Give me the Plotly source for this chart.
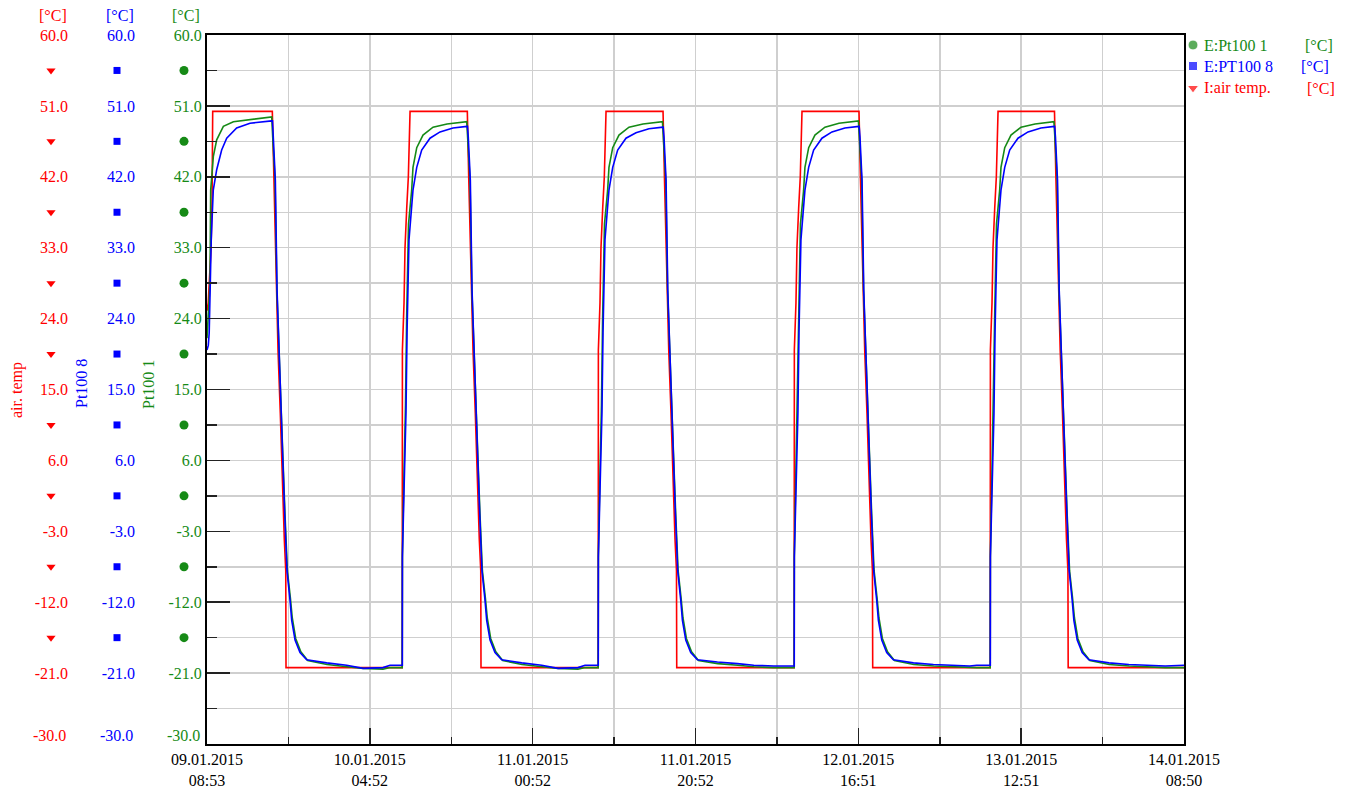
import pandas as pd
import plotly.graph_objects as go

# ---------------- data ----------------
START = "2015-01-09 08:53:00"
END = "2015-01-14 08:50:00"

x_ticktext = ["09.01.2015<br>08:53", "10.01.2015<br>04:52", "11.01.2015<br>00:52",
              "11.01.2015<br>20:52", "12.01.2015<br>16:51", "13.01.2015<br>12:51",
              "14.01.2015<br>08:50"]

y_tick_values = [-30, -21, -12, -3, 6, 15, 24, 33, 42, 51, 60]
y_minor_values = [-25.5, -16.5, -7.5, 1.5, 10.5, 19.5, 28.5, 37.5, 46.5, 55.5]
symbol_levels = [55.5, 46.5, 37.5, 28.5, 19.5, 10.5, 1.5, -7.5, -16.5]

# I:air temp. (hours since start, degC)
air_h = [0.00, 0.15, 0.30, 0.50, 0.62, 0.70, 8.02, 8.19, 8.47, 8.72, 9.00, 9.21, 9.49, 9.67, 9.70, 23.97,
         23.99, 24.19, 24.31, 24.52, 24.72, 24.93, 31.96, 32.13, 32.41, 32.66, 32.94, 33.15, 33.43, 33.61, 33.64, 48.03,
         48.05, 48.25, 48.37, 48.58, 48.78, 48.99, 55.99, 56.16, 56.44, 56.69, 56.97, 57.18, 57.46, 57.64, 57.67, 72.09,
         72.11, 72.31, 72.43, 72.64, 72.84, 73.05, 80.05, 80.22, 80.50, 80.75, 81.03, 81.24, 81.52, 81.70, 81.73, 96.16,
         96.18, 96.38, 96.50, 96.71, 96.91, 97.12, 104.05, 104.22, 104.50, 104.75, 105.03, 105.24, 105.52, 105.70, 105.73, 119.95]
air_t = [25.0, 26.0, 29.0, 33.0, 39.0, 50.3, 50.3, 42.0, 30.0, 20.0, 12.0, 4.0, -4.0, -8.0, -20.3, -20.3,
         20.0, 26.0, 33.0, 38.0, 42.0, 50.3, 50.3, 42.0, 30.0, 20.0, 12.0, 4.0, -4.0, -8.0, -20.3, -20.3,
         20.0, 26.0, 33.0, 38.0, 42.0, 50.3, 50.3, 42.0, 30.0, 20.0, 12.0, 4.0, -4.0, -8.0, -20.3, -20.3,
         20.0, 26.0, 33.0, 38.0, 42.0, 50.3, 50.3, 42.0, 30.0, 20.0, 12.0, 4.0, -4.0, -8.0, -20.3, -20.3,
         20.0, 26.0, 33.0, 38.0, 42.0, 50.3, 50.3, 42.0, 30.0, 20.0, 12.0, 4.0, -4.0, -8.0, -20.3, -20.3]

# E:PT100 8
pt8_h = [0.00, 0.16, 0.27, 0.52, 0.77, 1.19, 1.80, 2.42, 3.64, 5.28, 7.94,
         8.04, 8.14, 8.39, 8.60, 9.00, 9.30, 9.54, 9.82, 10.19, 10.40, 10.81, 11.42, 12.24, 14.70, 17.15, 19.16, 21.61, 22.47,
         23.98, 23.99, 24.19, 24.43, 24.56, 24.80, 25.29, 25.75, 26.36, 27.38, 28.61, 30.20, 31.92,
         31.98, 32.08, 32.33, 32.54, 32.94, 33.24, 33.48, 33.76, 34.13, 34.34, 34.75, 35.36, 36.18, 38.64, 41.09, 43.10, 45.55, 46.41,
         48.04, 48.05, 48.25, 48.49, 48.62, 48.86, 49.35, 49.81, 50.42, 51.44, 52.67, 54.26, 55.98,
         56.01, 56.11, 56.36, 56.57, 56.97, 57.27, 57.51, 57.79, 58.16, 58.37, 58.78, 59.39, 60.21, 62.67, 65.12, 67.13, 69.58, 70.44,
         72.10, 72.11, 72.31, 72.55, 72.68, 72.92, 73.41, 73.87, 74.48, 75.50, 76.73, 78.32, 80.04,
         80.07, 80.17, 80.42, 80.63, 81.03, 81.33, 81.57, 81.85, 82.22, 82.43, 82.84, 83.45, 84.27, 86.73, 89.18, 91.19, 93.64, 94.50,
         96.17, 96.18, 96.38, 96.62, 96.75, 96.99, 97.48, 97.94, 98.55, 99.57, 100.80, 102.39, 104.04,
         104.07, 104.17, 104.42, 104.63, 105.03, 105.33, 105.57, 105.85, 106.22, 106.43, 106.84, 107.45, 108.27, 110.73, 113.18, 115.19, 117.64, 119.95]
pt8_t = [20.0, 20.6, 22.2, 34.0, 40.3, 42.9, 45.4, 46.9, 48.2, 48.8, 49.1,
         49.1, 47.0, 41.6, 27.6, 14.0, 6.4, -0.7, -8.0, -11.7, -14.3, -16.8, -18.4, -19.3, -19.7, -20.0, -20.4, -20.3, -20.0,
         -20.0, -6.3, 2.2, 12.0, 22.2, 34.0, 40.3, 43.2, 45.4, 46.9, 47.7, 48.2, 48.4,
         48.4, 47.0, 41.6, 27.6, 14.0, 6.4, -0.7, -8.0, -11.7, -14.3, -16.8, -18.4, -19.3, -19.7, -20.0, -20.4, -20.3, -20.0,
         -20.0, -6.3, 2.2, 12.0, 22.2, 34.0, 40.3, 43.2, 45.4, 46.9, 47.6, 48.1, 48.3,
         48.3, 47.0, 41.6, 27.6, 14.0, 6.4, -0.7, -8.0, -11.7, -14.3, -16.8, -18.4, -19.3, -19.6, -19.8, -20.0, -20.1, -20.1,
         -20.1, -6.3, 2.2, 12.0, 22.2, 34.0, 40.3, 43.2, 45.4, 46.9, 47.7, 48.2, 48.4,
         48.4, 47.0, 41.6, 27.6, 14.0, 6.4, -0.7, -8.0, -11.7, -14.3, -16.8, -18.4, -19.3, -19.7, -19.9, -20.0, -20.1, -20.0,
         -20.0, -6.3, 2.2, 12.0, 22.2, 34.0, 40.3, 43.2, 45.4, 46.9, 47.7, 48.2, 48.4,
         48.4, 47.0, 41.6, 27.6, 14.0, 6.4, -0.7, -8.0, -11.7, -14.3, -16.8, -18.4, -19.3, -19.7, -19.9, -20.0, -20.1, -20.0]

# E:Pt100 1
pt1_h = [0.00, 0.16, 0.37, 0.45, 0.78, 1.19, 2.01, 3.24, 6.10, 7.95,
         8.07, 8.35, 8.58, 9.00, 9.32, 9.57, 9.87, 10.24, 10.47, 10.89, 11.52, 12.37, 14.74, 17.19, 19.16, 21.61, 22.47, 23.97,
         23.99, 24.16, 24.37, 24.51, 24.74, 25.13, 25.29, 25.75, 26.52, 27.75, 29.47, 31.89,
         32.01, 32.29, 32.52, 32.94, 33.26, 33.51, 33.81, 34.18, 34.41, 34.83, 35.46, 36.31, 38.68, 41.13, 43.10, 45.55, 46.41, 48.03,
         48.05, 48.22, 48.43, 48.57, 48.80, 49.19, 49.35, 49.81, 50.58, 51.81, 53.53, 55.92,
         56.04, 56.32, 56.55, 56.97, 57.29, 57.54, 57.84, 58.21, 58.44, 58.86, 59.49, 60.34, 62.71, 65.16, 67.13, 69.58, 70.44, 72.09,
         72.11, 72.28, 72.49, 72.63, 72.86, 73.25, 73.41, 73.87, 74.64, 75.87, 77.59, 79.98,
         80.10, 80.38, 80.61, 81.03, 81.35, 81.60, 81.90, 82.27, 82.50, 82.92, 83.55, 84.40, 86.77, 89.22, 91.19, 93.64, 94.50, 96.16,
         96.18, 96.35, 96.56, 96.70, 96.93, 97.32, 97.48, 97.94, 98.71, 99.94, 101.66, 103.98,
         104.10, 104.38, 104.61, 105.03, 105.35, 105.60, 105.90, 106.27, 106.50, 106.92, 107.55, 108.40, 110.77, 113.22, 115.19, 117.64, 119.95]
pt1_t = [21.5, 24.0, 28.5, 40.3, 44.6, 46.7, 48.4, 49.0, 49.4, 49.6,
         47.0, 41.6, 27.6, 14.0, 6.4, -0.7, -8.0, -11.5, -14.0, -16.6, -18.3, -19.4, -19.9, -20.2, -20.4, -20.5, -20.3, -20.3,
         -6.0, 3.0, 13.0, 24.0, 36.0, 40.3, 43.2, 45.7, 47.3, 48.3, 48.7, 49.0,
         47.0, 41.6, 27.6, 14.0, 6.4, -0.7, -8.0, -11.5, -14.0, -16.6, -18.3, -19.4, -19.9, -20.2, -20.4, -20.5, -20.3, -20.3,
         -6.0, 3.0, 13.0, 24.0, 36.0, 40.3, 43.2, 45.7, 47.3, 48.3, 48.7, 49.0,
         47.0, 41.6, 27.6, 14.0, 6.4, -0.7, -8.0, -11.5, -14.0, -16.6, -18.3, -19.4, -19.8, -20.0, -20.2, -20.3, -20.3, -20.3,
         -6.0, 3.0, 13.0, 24.0, 36.0, 40.3, 43.2, 45.7, 47.3, 48.3, 48.8, 49.1,
         47.0, 41.6, 27.6, 14.0, 6.4, -0.7, -8.0, -11.5, -14.0, -16.6, -18.3, -19.4, -19.9, -20.1, -20.2, -20.3, -20.3, -20.3,
         -6.0, 3.0, 13.0, 24.0, 36.0, 40.3, 43.2, 45.7, 47.3, 48.3, 48.7, 49.0,
         47.0, 41.6, 27.6, 14.0, 6.4, -0.7, -8.0, -11.5, -14.0, -16.6, -18.3, -19.4, -19.9, -20.1, -20.2, -20.3, -20.3]

series_names = ["E:Pt100 1", "E:PT100 8", "I:air temp."]
axis_titles = ["Pt100 1", "Pt100 8", "air. temp"]
unit = "[°C]"

# ---------------- styling ----------------
W, H = 1345, 790
RED, BLUE, GREEN = "#ff0000", "#0000ff", "#168a16"
FONT = "Liberation Serif"
GRID = "#cfcfcf"
PL, PR, PT, PB = 207, 1184, 35, 744   # plot area in pixels

t0 = pd.Timestamp(START)
t1 = pd.Timestamp(END)
span = t1 - t0


def to_time(hours):
    return t0 + pd.to_timedelta(pd.Series(hours), unit="h")


x_tickvals = [t0 + span * i / 6 for i in range(7)]
x_minorvals = [t0 + span * (i + 0.5) / 6 for i in range(6)]
# bottom label (-30.0) is drawn separately, lifted a little as in the reference
y_ticktext = ["" if v == y_tick_values[0] else f"{v:.1f}" for v in y_tick_values]
bottom_label = f"{y_tick_values[0]:.1f}"

fig = go.Figure()

# data lines
fig.add_trace(go.Scatter(x=to_time(air_h), y=air_t, mode="lines", name=series_names[2],
                         line=dict(color=RED, width=1.6), showlegend=False, hoverinfo="skip"))
fig.add_trace(go.Scatter(x=to_time(pt1_h), y=pt1_t, mode="lines", name=series_names[0],
                         line=dict(color=GREEN, width=1.6), showlegend=False, hoverinfo="skip"))
fig.add_trace(go.Scatter(x=to_time(pt8_h), y=pt8_t, mode="lines", name=series_names[1],
                         line=dict(color=BLUE, width=1.6), showlegend=False, hoverinfo="skip"))

# dummy traces to activate the extra label axes
for ax in ["y2", "y3"]:
    fig.add_trace(go.Scatter(x=[t0], y=[None], yaxis=ax, mode="markers",
                             showlegend=False, hoverinfo="skip"))

# axis identifier symbols in the label columns
col_x = {"red": 51, "blue": 117, "green": 184}
fig.add_trace(go.Scatter(x=[col_x["red"]] * len(symbol_levels), y=symbol_levels, xaxis="x2", yaxis="y5",
                         mode="markers", marker=dict(symbol="triangle-down", size=8, color=RED),
                         showlegend=False, hoverinfo="skip", cliponaxis=False))
fig.add_trace(go.Scatter(x=[col_x["blue"]] * len(symbol_levels), y=symbol_levels, xaxis="x2", yaxis="y5",
                         mode="markers", marker=dict(symbol="square", size=7, color=BLUE),
                         showlegend=False, hoverinfo="skip", cliponaxis=False))
fig.add_trace(go.Scatter(x=[col_x["green"]] * len(symbol_levels), y=symbol_levels, xaxis="x2", yaxis="y5",
                         mode="markers", marker=dict(symbol="circle", size=9, color=GREEN),
                         showlegend=False, hoverinfo="skip", cliponaxis=False))

# manual legend symbols (pixel coordinates on auxiliary axes)
leg_y = [45, 66, 88]
fig.add_trace(go.Scatter(x=[1193, 1193, 1193], y=leg_y, xaxis="x3", yaxis="y4", mode="markers",
                         marker=dict(symbol=["circle", "square", "triangle-down"], size=[10, 9, 10],
                                     color=[GREEN, BLUE, RED]),
                         showlegend=False, hoverinfo="skip", cliponaxis=False))

annotations = []
leg_colors = [GREEN, BLUE, RED]
unit_x = [1303, 1299, 1305]
for name, yy, c, ux in zip(series_names, leg_y, leg_colors, unit_x):
    annotations.append(dict(x=1202, y=yy, xref="x3", yref="y4", text=name, showarrow=False,
                            xanchor="left", yanchor="middle", font=dict(family=FONT, size=16, color=c)))
    annotations.append(dict(x=ux, y=yy, xref="x3", yref="y4", text=unit, showarrow=False,
                            xanchor="left", yanchor="middle", font=dict(family=FONT, size=16, color=c)))

# axis titles and units above the label columns
title_pos = [(149, 385, GREEN), (82, 384, BLUE), (17, 390, RED)]
for title, (px, py, c) in zip(axis_titles, title_pos):
    annotations.append(dict(x=px / W, y=1 - py / H, xref="paper", yref="paper", text=title,
                            textangle=-90, showarrow=False, xanchor="center", yanchor="middle",
                            font=dict(family=FONT, size=16, color=c)))
for px, c in [(186, GREEN), (120, BLUE), (53, RED)]:
    annotations.append(dict(x=px / W, y=1 - 16 / H, xref="paper", yref="paper", text=unit,
                            showarrow=False, xanchor="center", yanchor="middle",
                            font=dict(family=FONT, size=16, color=c)))
# lifted bottom labels
for px, c in [(202, GREEN), (135, BLUE), (68, RED)]:
    annotations.append(dict(x=px / W, y=1 - 735 / H, xref="paper", yref="paper", text=bottom_label,
                            showarrow=False, xanchor="right", yanchor="middle",
                            font=dict(family=FONT, size=16, color=c)))

ydom = [1 - PB / H, 1 - PT / H]
common_y = dict(range=[-30, 60], domain=ydom, tickvals=y_tick_values, ticktext=y_ticktext,
                zeroline=False, fixedrange=True, automargin=False)

fig.update_layout(
    width=W, height=H, autosize=False,
    margin=dict(l=0, r=0, t=0, b=0, pad=0, autoexpand=False),
    paper_bgcolor="white", plot_bgcolor="white",
    showlegend=False,
    font=dict(family=FONT, size=16, color="black"),
    xaxis=dict(type="date", domain=[PL / W, PR / W], range=[t0, t1], anchor="y",
               tickvals=x_tickvals, ticktext=x_ticktext, ticks="inside", ticklen=16,
               tickwidth=1.5, tickcolor="#222222", automargin=False,
               showgrid=True, gridcolor=GRID, gridwidth=1.5,
               showline=True, linecolor="black", linewidth=2, mirror=True,
               tickfont=dict(family=FONT, size=16, color="black"),
               minor=dict(tickvals=x_minorvals, ticks="inside", ticklen=7, tickwidth=1.5,
                          tickcolor="#222222", showgrid=True, gridcolor=GRID, gridwidth=1.5),
               fixedrange=True),
    yaxis=dict(**common_y, anchor="x", ticks="inside", ticklen=23, tickwidth=1.5, tickcolor="#222222",
               showgrid=True, gridcolor=GRID, gridwidth=1.5,
               showline=True, linecolor="black", linewidth=2, mirror=True,
               tickfont=dict(family=FONT, size=16, color=GREEN),
               minor=dict(tickvals=y_minor_values, ticks="inside", ticklen=10, tickwidth=1.5,
                          tickcolor="#222222", showgrid=True, gridcolor=GRID, gridwidth=1.5)),
    yaxis2=dict(**common_y, overlaying="y", anchor="free", position=135 / W, side="left",
                ticks="", showgrid=False, showline=False,
                tickfont=dict(family=FONT, size=16, color=BLUE)),
    yaxis3=dict(**common_y, overlaying="y", anchor="free", position=68 / W, side="left",
                ticks="", showgrid=False, showline=False,
                tickfont=dict(family=FONT, size=16, color=RED)),
    xaxis2=dict(domain=[0, PL / W], range=[0, PL], visible=False, anchor="y5", fixedrange=True),
    yaxis5=dict(range=[-30, 60], domain=ydom, visible=False, anchor="x2", fixedrange=True),
    xaxis3=dict(domain=[PR / W, 1], range=[PR, W], visible=False, anchor="y4", fixedrange=True),
    yaxis4=dict(range=[H, 0], domain=[0, 1], visible=False, anchor="x3", fixedrange=True),
    annotations=annotations,
)

fig.write_html("out.html", config={"displayModeBar": False, "staticPlot": True},
               post_script="document.body.style.margin='0';document.body.style.overflow='hidden';")
